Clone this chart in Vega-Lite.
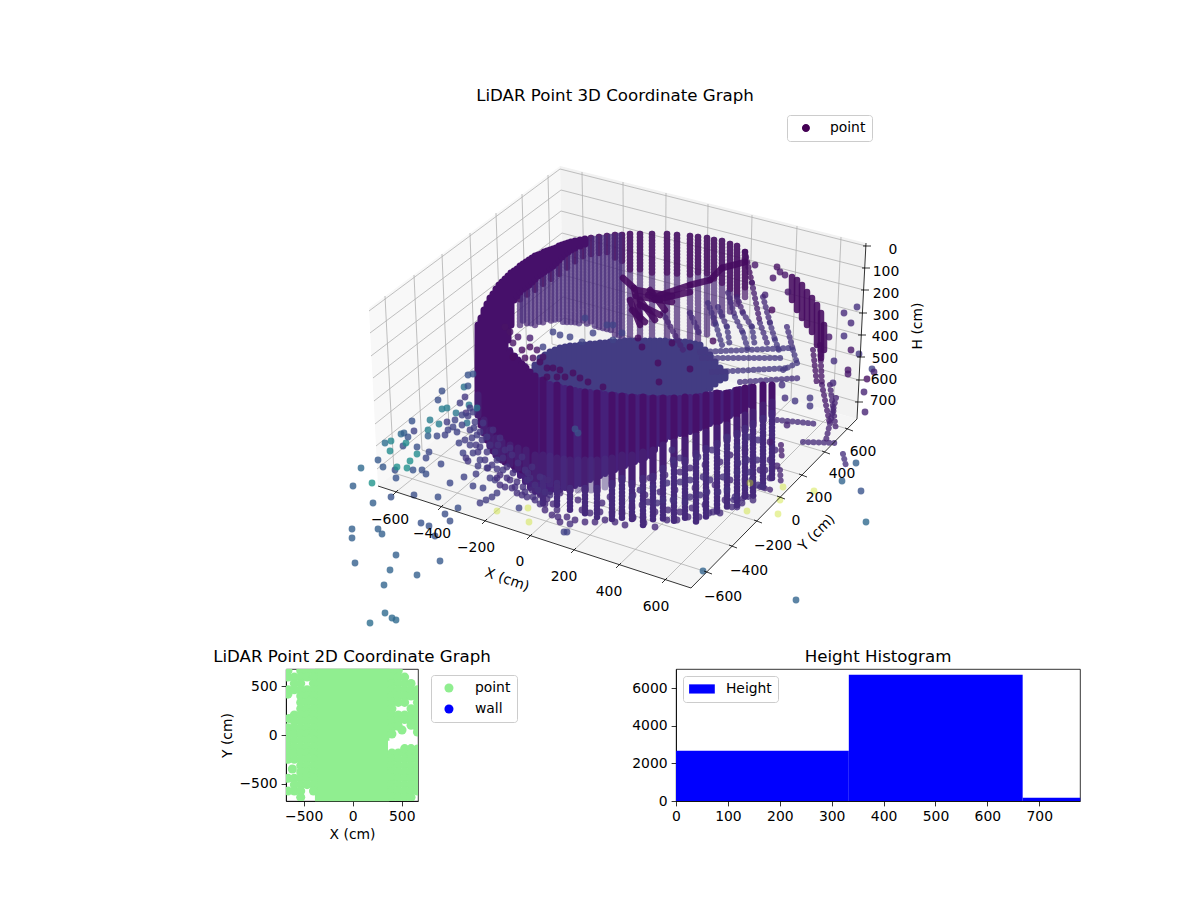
{
"$schema":"https://vega.github.io/schema/vega-lite/v6.json",
"padding":{"left":212,"top":88,"right":0,"bottom":0},
"background":"white",
"bounds":"flush",
"spacing":24,
"config":{"font":"DejaVu Sans","title":{"fontSize":16.67,"fontWeight":"normal","color":"black"},
"axis":{"grid":false,"labelFontSize":13.9,"titleFontSize":13.9,"titleFontWeight":"normal","labelColor":"black","titleColor":"black","tickColor":"black","domainColor":"black","tickSize":4.9,"tickWidth":0.8,"domainWidth":0.8,"labelPadding":4,"labelFlush":false},
"legend":{"labelFontSize":13.9,"labelColor":"black","strokeColor":"#cccccc","fillColor":"white","cornerRadius":3,"padding":6,"title":null}},
"resolve":{"scale":{"color":"independent"},"legend":{"color":"independent"}},
"datasets":{
"panes":[
{"pane":"left","i":1,"x":369,"y":308},{"pane":"left","i":2,"x":560,"y":166},{"pane":"left","i":3,"x":564,"y":334},{"pane":"left","i":4,"x":378,"y":486},{"pane":"left","i":5,"x":369,"y":308},
{"pane":"right","i":1,"x":560,"y":166},{"pane":"right","i":2,"x":866,"y":243},{"pane":"right","i":3,"x":857,"y":419},{"pane":"right","i":4,"x":564,"y":334},{"pane":"right","i":5,"x":560,"y":166},
{"pane":"floor","i":1,"x":378,"y":486},{"pane":"floor","i":2,"x":564,"y":334},{"pane":"floor","i":3,"x":857,"y":419},{"pane":"floor","i":4,"x":691,"y":588},{"pane":"floor","i":5,"x":378,"y":486}],
"grid":[
{"x":385,"y":296,"x2":394,"y2":473},{"x":414,"y":275,"x2":422,"y2":450},{"x":442,"y":254,"x2":449,"y2":428},{"x":470,"y":233,"x2":476,"y2":406},{"x":496,"y":213,"x2":502,"y2":385},{"x":522,"y":194,"x2":527,"y2":364},{"x":548,"y":175,"x2":552,"y2":344},
{"x":582,"y":172,"x2":585,"y2":340},{"x":623,"y":182,"x2":624,"y2":351},{"x":666,"y":193,"x2":665,"y2":363},{"x":708,"y":204,"x2":706,"y2":375},{"x":752,"y":215,"x2":748,"y2":387},{"x":797,"y":226,"x2":791,"y2":400},{"x":841,"y":237,"x2":833,"y2":412},
{"x":396,"y":492,"x2":585,"y2":340},{"x":441,"y":507,"x2":624,"y2":351},{"x":485,"y":521,"x2":665,"y2":363},{"x":530,"y":536,"x2":706,"y2":375},{"x":574,"y":550,"x2":748,"y2":387},{"x":619,"y":565,"x2":791,"y2":400},{"x":665,"y":580,"x2":833,"y2":412},
{"x":394,"y":473,"x2":707,"y2":572},{"x":422,"y":450,"x2":732,"y2":546},{"x":449,"y":428,"x2":757,"y2":521},{"x":476,"y":406,"x2":780,"y2":497},{"x":502,"y":385,"x2":802,"y2":475},{"x":527,"y":364,"x2":825,"y2":452},{"x":552,"y":344,"x2":848,"y2":429},
{"x":369,"y":311,"x2":560,"y2":169},{"x":370,"y":333,"x2":561,"y2":190},{"x":371,"y":356,"x2":561,"y2":211},{"x":373,"y":378,"x2":562,"y2":233},{"x":374,"y":401,"x2":562,"y2":254},{"x":375,"y":424,"x2":563,"y2":275},{"x":376,"y":446,"x2":563,"y2":297},{"x":377,"y":469,"x2":564,"y2":318},
{"x":560,"y":169,"x2":866,"y2":246},{"x":561,"y":190,"x2":865,"y2":268},{"x":561,"y":211,"x2":864,"y2":290},{"x":562,"y":233,"x2":862,"y2":313},{"x":562,"y":254,"x2":861,"y2":335},{"x":563,"y":275,"x2":860,"y2":357},{"x":563,"y":297,"x2":859,"y2":380},{"x":564,"y":318,"x2":858,"y2":402}],
"axislines":[
{"x":378,"y":486,"x2":691,"y2":588},{"x":691,"y":588,"x2":857,"y2":419},{"x":866,"y":243,"x2":857,"y2":419},
{"x":398,"y":490,"x2":393,"y2":495},{"x":443,"y":505,"x2":438,"y2":510},{"x":487,"y":519,"x2":482,"y2":524},{"x":532,"y":534,"x2":527,"y2":539},{"x":576,"y":548,"x2":571,"y2":553},{"x":621,"y":563,"x2":616,"y2":568},{"x":667,"y":578,"x2":662,"y2":583},
{"x":704,"y":571,"x2":712,"y2":574},{"x":729,"y":545,"x2":737,"y2":548},{"x":754,"y":520,"x2":762,"y2":523},{"x":777,"y":496,"x2":785,"y2":499},{"x":799,"y":474,"x2":807,"y2":477},{"x":822,"y":451,"x2":830,"y2":454},{"x":845,"y":428,"x2":853,"y2":431},
{"x":863,"y":246,"x2":871,"y2":246},{"x":862,"y":268,"x2":870,"y2":268},{"x":861,"y":290,"x2":869,"y2":290},{"x":859,"y":313,"x2":867,"y2":313},{"x":858,"y":335,"x2":866,"y2":335},{"x":857,"y":357,"x2":865,"y2":357},{"x":856,"y":380,"x2":864,"y2":380},{"x":855,"y":402,"x2":863,"y2":402}],
"ticklabels":[
{"x":390,"y":520,"label":"−600"},{"x":432,"y":534,"label":"−400"},{"x":476,"y":548,"label":"−200"},{"x":520,"y":562,"label":"0"},{"x":564,"y":577,"label":"200"},{"x":609,"y":592,"label":"400"},{"x":656,"y":607,"label":"600"},
{"x":723,"y":597,"label":"−600"},{"x":749,"y":571,"label":"−400"},{"x":773,"y":546,"label":"−200"},{"x":796,"y":521,"label":"0"},{"x":819,"y":498,"label":"200"},{"x":842,"y":474,"label":"400"},{"x":863,"y":452,"label":"600"},
{"x":893,"y":250,"label":"0"},{"x":886,"y":272,"label":"100"},{"x":886,"y":294,"label":"200"},{"x":886,"y":316,"label":"300"},{"x":885,"y":337,"label":"400"},{"x":885,"y":359,"label":"500"},{"x":884,"y":380,"label":"600"},{"x":883,"y":401,"label":"700"}],
"back":[
{"x":520,"y":280,"y2":325,"v":0.1},{"x":527,"y":272,"y2":326,"v":0.1},{"x":535,"y":264,"y2":327,"v":0.1},{"x":543,"y":258,"y2":325,"v":0.1},{"x":551,"y":253,"y2":322,"v":0.1},{"x":559,"y":248,"y2":320,"v":0.11},{"x":567,"y":245,"y2":324,"v":0.11},{"x":575,"y":242,"y2":325,"v":0.11},{"x":583,"y":240,"y2":322,"v":0.11},{"x":591,"y":238,"y2":324,"v":0.11},{"x":599,"y":237,"y2":328,"v":0.11},{"x":607,"y":236,"y2":330,"v":0.11},{"x":615,"y":235,"y2":335,"v":0.11},{"x":622,"y":235,"y2":340,"v":0.11},{"x":630,"y":234,"y2":345,"v":0.1},{"x":640,"y":234,"y2":345,"v":0.1},{"x":652,"y":234,"y2":345,"v":0.1},{"x":667,"y":234,"y2":345,"v":0.1},{"x":677,"y":235,"y2":345,"v":0.1},{"x":690,"y":236,"y2":345,"v":0.1},{"x":698,"y":237,"y2":340,"v":0.1},{"x":707,"y":238,"y2":335,"v":0.1},{"x":714,"y":240,"y2":325,"v":0.1},{"x":722,"y":241,"y2":318,"v":0.1},{"x":730,"y":244,"y2":312,"v":0.1},{"x":737,"y":246,"y2":305,"v":0.08},{"x":745,"y":252,"y2":300,"v":0.06},
{"x":520,"y":280,"y2":300,"v":0.02},{"x":527,"y":272,"y2":295,"v":0.02},{"x":535,"y":264,"y2":290,"v":0.02},{"x":543,"y":258,"y2":285,"v":0.02},{"x":551,"y":253,"y2":280,"v":0.02},{"x":559,"y":248,"y2":275,"v":0.02},{"x":567,"y":245,"y2":268,"v":0.02},{"x":575,"y":242,"y2":262,"v":0.02},{"x":583,"y":240,"y2":258,"v":0.02},{"x":591,"y":238,"y2":256,"v":0.02},{"x":599,"y":237,"y2":255,"v":0.02},{"x":607,"y":236,"y2":255,"v":0.02},{"x":615,"y":235,"y2":258,"v":0.02},{"x":622,"y":235,"y2":262,"v":0.02},{"x":630,"y":234,"y2":270,"v":0.02},{"x":640,"y":234,"y2":272,"v":0.02},{"x":652,"y":234,"y2":275,"v":0.02},{"x":667,"y":234,"y2":275,"v":0.02},{"x":677,"y":235,"y2":275,"v":0.02},{"x":690,"y":236,"y2":275,"v":0.02},{"x":698,"y":237,"y2":275,"v":0.02},{"x":707,"y":238,"y2":275,"v":0.02},{"x":714,"y":240,"y2":280,"v":0.02},{"x":722,"y":241,"y2":285,"v":0.02},{"x":730,"y":244,"y2":290,"v":0.02},{"x":737,"y":246,"y2":295,"v":0.02},{"x":745,"y":252,"y2":290,"v":0.02},
{"x":523,"y":282,"y2":322,"v":0.12},{"x":531,"y":272,"y2":324,"v":0.12},{"x":539,"y":264,"y2":324,"v":0.12},{"x":547,"y":258,"y2":322,"v":0.12},{"x":555,"y":252,"y2":320,"v":0.12},{"x":563,"y":248,"y2":322,"v":0.12},{"x":571,"y":245,"y2":324,"v":0.12},{"x":579,"y":243,"y2":324,"v":0.12},{"x":587,"y":240,"y2":324,"v":0.12},{"x":595,"y":239,"y2":326,"v":0.12},{"x":603,"y":238,"y2":328,"v":0.12},{"x":611,"y":237,"y2":332,"v":0.12},{"x":619,"y":236,"y2":336,"v":0.12}],
"floor":[
{"x":535,"y":365,"y2":378},{"x":540,"y":358,"y2":380},{"x":545,"y":355,"y2":382},{"x":550,"y":352,"y2":384},{"x":555,"y":350,"y2":386},{"x":560,"y":348,"y2":388},{"x":565,"y":347,"y2":390},{"x":570,"y":346,"y2":392},{"x":575,"y":346,"y2":393},{"x":580,"y":345,"y2":395},{"x":585,"y":345,"y2":396},{"x":590,"y":344,"y2":398},{"x":595,"y":344,"y2":398},{"x":600,"y":343,"y2":400},{"x":605,"y":343,"y2":400},{"x":610,"y":342,"y2":400},{"x":615,"y":342,"y2":400},{"x":620,"y":342,"y2":400},{"x":625,"y":341,"y2":400},{"x":630,"y":341,"y2":400},{"x":635,"y":341,"y2":400},{"x":640,"y":341,"y2":400},{"x":645,"y":341,"y2":400},{"x":650,"y":341,"y2":400},{"x":655,"y":341,"y2":400},{"x":660,"y":341,"y2":400},{"x":665,"y":341,"y2":400},{"x":670,"y":342,"y2":400},{"x":675,"y":342,"y2":400},{"x":680,"y":342,"y2":398},{"x":685,"y":342,"y2":398},{"x":690,"y":343,"y2":396},{"x":695,"y":344,"y2":395},{"x":700,"y":345,"y2":392},{"x":705,"y":350,"y2":390},{"x":710,"y":355,"y2":388},{"x":715,"y":362,"y2":384},{"x":720,"y":368,"y2":380},{"x":725,"y":372,"y2":378}],
"behind":[
{"x":505,"y":340,"y2":462},{"x":510,"y":350,"y2":464},{"x":515,"y":356,"y2":470},{"x":520,"y":362,"y2":476},{"x":525,"y":366,"y2":482},{"x":530,"y":372,"y2":488},{"x":535,"y":376,"y2":492},{"x":540,"y":380,"y2":494},{"x":545,"y":382,"y2":494},{"x":550,"y":384,"y2":492},{"x":555,"y":385,"y2":490},{"x":560,"y":387,"y2":490},{"x":565,"y":388,"y2":488},{"x":570,"y":389,"y2":488},{"x":575,"y":390,"y2":486},{"x":580,"y":391,"y2":484},{"x":585,"y":392,"y2":482},{"x":590,"y":392,"y2":480},{"x":595,"y":393,"y2":478},{"x":600,"y":393,"y2":476},{"x":605,"y":394,"y2":474},{"x":610,"y":395,"y2":472},{"x":615,"y":395,"y2":470},{"x":620,"y":396,"y2":468},{"x":625,"y":396,"y2":466},{"x":630,"y":397,"y2":464},{"x":635,"y":397,"y2":462},{"x":640,"y":397,"y2":460},{"x":645,"y":397,"y2":458},{"x":650,"y":398,"y2":456},{"x":655,"y":398,"y2":450},{"x":660,"y":398,"y2":444},{"x":665,"y":398,"y2":440},{"x":670,"y":398,"y2":437},{"x":675,"y":398,"y2":436},{"x":680,"y":398,"y2":434},{"x":685,"y":397,"y2":433},{"x":690,"y":397,"y2":432},{"x":695,"y":397,"y2":430},{"x":700,"y":396,"y2":428},{"x":705,"y":395,"y2":426},{"x":710,"y":394,"y2":424},{"x":715,"y":393,"y2":422},{"x":720,"y":393,"y2":421},{"x":725,"y":393,"y2":419},{"x":730,"y":392,"y2":416},{"x":735,"y":390,"y2":414},{"x":740,"y":389,"y2":411},{"x":745,"y":388,"y2":408},{"x":750,"y":387,"y2":405}],
"band":[
{"x":478,"y":325,"y2":415},{"x":481,"y":318,"y2":425},{"x":484,"y":310,"y2":433},{"x":487,"y":304,"y2":440},{"x":490,"y":298,"y2":446},{"x":493,"y":294,"y2":451},{"x":496,"y":289,"y2":455},{"x":499,"y":285,"y2":458},{"x":502,"y":282,"y2":460},{"x":505,"y":279,"y2":462},{"x":508,"y":276,"y2":340},{"x":511,"y":273,"y2":325},{"x":514,"y":271,"y2":300},{"x":517,"y":269,"y2":296},{"x":520,"y":266,"y2":292},{"x":523,"y":264,"y2":289},{"x":526,"y":262,"y2":287},{"x":529,"y":260,"y2":285},{"x":532,"y":258,"y2":282},{"x":535,"y":256,"y2":279},{"x":538,"y":255,"y2":276},{"x":541,"y":254,"y2":274},{"x":544,"y":252,"y2":272},{"x":547,"y":251,"y2":270},{"x":550,"y":250,"y2":268},{"x":553,"y":249,"y2":266},{"x":556,"y":248,"y2":263},{"x":559,"y":246,"y2":260},{"x":562,"y":245,"y2":257},{"x":565,"y":244,"y2":254},{"x":568,"y":243,"y2":252},{"x":571,"y":242,"y2":250},{"x":575,"y":241,"y2":248},{"x":580,"y":240,"y2":246},{"x":585,"y":239,"y2":244},
{"x":510,"y":352,"y2":464},{"x":514,"y":356,"y2":466},{"x":518,"y":360,"y2":468},{"x":522,"y":364,"y2":470},{"x":526,"y":368,"y2":472},{"x":530,"y":372,"y2":476},{"x":535,"y":376,"y2":480},
{"x":543,"y":380,"y2":480},{"x":557,"y":385,"y2":485},{"x":570,"y":389,"y2":490},{"x":585,"y":392,"y2":490},{"x":597,"y":393,"y2":490},{"x":612,"y":395,"y2":485},{"x":622,"y":396,"y2":480},{"x":632,"y":397,"y2":485},{"x":643,"y":397,"y2":480},{"x":653,"y":398,"y2":478},{"x":663,"y":398,"y2":470},{"x":674,"y":398,"y2":465},{"x":685,"y":397,"y2":462},{"x":696,"y":397,"y2":455},{"x":706,"y":395,"y2":450},{"x":717,"y":393,"y2":445},{"x":727,"y":393,"y2":440},{"x":737,"y":390,"y2":435},{"x":745,"y":388,"y2":430},{"x":753,"y":387,"y2":425},{"x":763,"y":385,"y2":420},{"x":772,"y":385,"y2":415}],
"shade":[
{"x":478,"y":395,"y2":415},{"x":484,"y":420,"y2":433},{"x":490,"y":430,"y2":446},{"x":496,"y":438,"y2":455},{"x":502,"y":442,"y2":460},{"x":510,"y":445,"y2":464},{"x":518,"y":448,"y2":468},{"x":526,"y":450,"y2":472},{"x":535,"y":455,"y2":480},{"x":543,"y":455,"y2":480},{"x":550,"y":456,"y2":484},{"x":557,"y":458,"y2":485},{"x":564,"y":459,"y2":487},{"x":570,"y":460,"y2":490},{"x":578,"y":460,"y2":490},{"x":585,"y":460,"y2":490},{"x":591,"y":460,"y2":490},{"x":597,"y":460,"y2":490},{"x":605,"y":459,"y2":487},{"x":612,"y":458,"y2":485},{"x":622,"y":455,"y2":480},{"x":632,"y":455,"y2":485},{"x":643,"y":452,"y2":480},{"x":653,"y":450,"y2":478},{"x":663,"y":445,"y2":470},{"x":674,"y":442,"y2":465},{"x":685,"y":440,"y2":462},{"x":696,"y":436,"y2":455},{"x":706,"y":432,"y2":450},{"x":717,"y":428,"y2":445},{"x":727,"y":425,"y2":440},{"x":737,"y":420,"y2":435},{"x":745,"y":415,"y2":430},{"x":753,"y":412,"y2":425},{"x":763,"y":405,"y2":420},{"x":772,"y":402,"y2":415}],
"lower":[
{"x":543,"y":478,"y2":505},{"x":557,"y":483,"y2":508},{"x":570,"y":488,"y2":512},{"x":585,"y":488,"y2":516},{"x":597,"y":488,"y2":518},{"x":612,"y":483,"y2":520},{"x":622,"y":478,"y2":518},{"x":632,"y":483,"y2":521},{"x":643,"y":478,"y2":525},{"x":653,"y":476,"y2":522},{"x":663,"y":468,"y2":520},{"x":674,"y":463,"y2":521},{"x":685,"y":460,"y2":520},{"x":696,"y":453,"y2":522},{"x":706,"y":448,"y2":518},{"x":717,"y":443,"y2":512},{"x":727,"y":438,"y2":510},{"x":737,"y":433,"y2":508},{"x":745,"y":428,"y2":500},{"x":753,"y":423,"y2":498},{"x":763,"y":418,"y2":490},{"x":772,"y":413,"y2":480}],
"chains":[
{"x":745,"y":252,"x2":752,"y2":283,"v":0.04},{"x":752,"y":283,"x2":760,"y2":323,"v":0.08},{"x":760,"y":323,"x2":767,"y2":343,"v":0.14},
{"x":737,"y":297,"x2":743,"y2":313,"v":0.1},{"x":743,"y":313,"x2":752,"y2":327,"v":0.14},{"x":752,"y":327,"x2":755,"y2":347,"v":0.16},
{"x":728,"y":293,"x2":735,"y2":317,"v":0.12},{"x":735,"y":317,"x2":743,"y2":333,"v":0.15},{"x":743,"y":333,"x2":748,"y2":350,"v":0.16},
{"x":718,"y":307,"x2":727,"y2":327,"v":0.14},{"x":727,"y":327,"x2":730,"y2":347,"v":0.16},{"x":708,"y":303,"x2":716,"y2":325,"v":0.14},{"x":716,"y":325,"x2":722,"y2":345,"v":0.16},
{"x":763,"y":297,"x2":770,"y2":323,"v":0.12},{"x":770,"y":323,"x2":775,"y2":340,"v":0.15},{"x":775,"y":340,"x2":780,"y2":353,"v":0.16},
{"x":787,"y":327,"x2":793,"y2":350,"v":0.14},{"x":793,"y":350,"x2":797,"y2":363,"v":0.16},{"x":797,"y":363,"x2":783,"y2":370,"v":0.16},
{"x":700,"y":352,"x2":790,"y2":348,"v":0.16},{"x":702,"y":358,"x2":785,"y2":358,"v":0.16},{"x":712,"y":372,"x2":790,"y2":368,"v":0.16},{"x":740,"y":382,"x2":800,"y2":378,"v":0.14},
{"x":663,"y":313,"x2":683,"y2":350,"v":0.1},{"x":690,"y":313,"x2":700,"y2":335,"v":0.12},
{"x":781,"y":445,"x2":782,"y2":460,"v":0.08},{"x":780,"y":470,"x2":781,"y2":485,"v":0.1},{"x":777,"y":420,"x2":817,"y2":424,"v":0.12},{"x":803,"y":442,"x2":837,"y2":443,"v":0.12},{"x":843,"y":454,"x2":846,"y2":466,"v":0.14},{"x":760,"y":487,"x2":775,"y2":491,"v":0.1},{"x":733,"y":500,"x2":758,"y2":495,"v":0.13},
{"x":813,"y":350,"x2":817,"y2":385,"v":0.05},{"x":820,"y":345,"x2":822,"y2":385,"v":0.05},{"x":822,"y":385,"x2":830,"y2":425,"v":0.07},{"x":830,"y":385,"x2":836,"y2":430,"v":0.09},{"x":836,"y":398,"x2":826,"y2":440,"v":0.1}],
"thick":[
{"x":623,"y":278,"x2":634,"y2":288},{"x":634,"y":288,"x2":640,"y2":318},{"x":636,"y":290,"x2":672,"y2":296},{"x":650,"y":290,"x2":665,"y2":310},{"x":660,"y":295,"x2":690,"y2":285},{"x":690,"y":285,"x2":710,"y2":280},{"x":710,"y":280,"x2":722,"y2":268},{"x":722,"y":268,"x2":745,"y2":262},{"x":640,"y":300,"x2":655,"y2":320},{"x":632,"y":310,"x2":645,"y2":322},{"x":648,"y":295,"x2":660,"y2":300},{"x":636,"y":296,"x2":672,"y2":302},{"x":640,"y":305,"x2":660,"y2":315},{"x":655,"y":300,"x2":690,"y2":292},{"x":630,"y":300,"x2":640,"y2":325},
{"x":792,"y":277,"x2":792,"y2":300},{"x":797,"y":280,"x2":797,"y2":310},{"x":802,"y":285,"x2":802,"y2":318},{"x":807,"y":292,"x2":807,"y2":325},{"x":812,"y":298,"x2":812,"y2":332},{"x":817,"y":305,"x2":817,"y2":345},{"x":821,"y":313,"x2":821,"y2":358},{"x":824,"y":325,"x2":824,"y2":350}],
"dots":[
{"x":361,"y":468,"v":0.34},{"x":372,"y":483,"v":0.52},{"x":353,"y":486,"v":0.3},{"x":373,"y":503,"v":0.3},{"x":352,"y":529,"v":0.3},{"x":352,"y":538,"v":0.3},{"x":378,"y":529,"v":0.3},{"x":382,"y":534,"v":0.3},{"x":355,"y":563,"v":0.3},{"x":396,"y":555,"v":0.3},{"x":390,"y":570,"v":0.32},{"x":384,"y":585,"v":0.32},{"x":417,"y":575,"v":0.3},{"x":440,"y":561,"v":0.28},{"x":421,"y":523,"v":0.26},{"x":429,"y":526,"v":0.26},{"x":435,"y":536,"v":0.26},{"x":445,"y":514,"v":0.24},{"x":450,"y":521,"v":0.24},{"x":458,"y":508,"v":0.24},{"x":438,"y":497,"v":0.24},{"x":414,"y":495,"v":0.24},{"x":391,"y":497,"v":0.26},{"x":385,"y":613,"v":0.34},{"x":392,"y":618,"v":0.34},{"x":396,"y":620,"v":0.34},{"x":370,"y":623,"v":0.36},
{"x":378,"y":460,"v":0.28},{"x":383,"y":467,"v":0.28},{"x":395,"y":470,"v":0.24},{"x":396,"y":478,"v":0.26},{"x":397,"y":467,"v":0.5},{"x":407,"y":468,"v":0.5},{"x":410,"y":461,"v":0.5},{"x":413,"y":470,"v":0.26},{"x":422,"y":470,"v":0.24},{"x":426,"y":474,"v":0.24},{"x":426,"y":458,"v":0.22},{"x":429,"y":452,"v":0.22},{"x":417,"y":447,"v":0.25},{"x":417,"y":454,"v":0.48},{"x":403,"y":446,"v":0.24},{"x":406,"y":443,"v":0.48},{"x":390,"y":451,"v":0.48},{"x":391,"y":441,"v":0.46},{"x":385,"y":443,"v":0.36},{"x":401,"y":434,"v":0.34},{"x":404,"y":433,"v":0.3},{"x":408,"y":437,"v":0.26},{"x":414,"y":431,"v":0.2},{"x":412,"y":421,"v":0.26},{"x":428,"y":430,"v":0.44},{"x":428,"y":436,"v":0.3},{"x":430,"y":420,"v":0.42},{"x":439,"y":424,"v":0.42},{"x":437,"y":436,"v":0.22},{"x":448,"y":430,"v":0.2},{"x":445,"y":435,"v":0.2},{"x":457,"y":432,"v":0.2},{"x":447,"y":422,"v":0.18},{"x":453,"y":427,"v":0.2},{"x":459,"y":443,"v":0.2},{"x":442,"y":409,"v":0.42},{"x":447,"y":408,"v":0.42},{"x":456,"y":413,"v":0.4},{"x":438,"y":400,"v":0.24},{"x":442,"y":391,"v":0.24},{"x":460,"y":403,"v":0.18},{"x":465,"y":397,"v":0.16},{"x":466,"y":413,"v":0.14},{"x":469,"y":405,"v":0.4},{"x":473,"y":412,"v":0.18},{"x":477,"y":408,"v":0.38},{"x":467,"y":423,"v":0.38},{"x":464,"y":387,"v":0.38},{"x":468,"y":386,"v":0.26},{"x":468,"y":375,"v":0.26},{"x":473,"y":374,"v":0.26},
{"x":441,"y":464,"v":0.22},{"x":450,"y":483,"v":0.22},{"x":464,"y":477,"v":0.2},{"x":473,"y":486,"v":0.2},{"x":483,"y":488,"v":0.2},{"x":463,"y":453,"v":0.2},{"x":466,"y":458,"v":0.16},{"x":468,"y":461,"v":0.16},{"x":476,"y":474,"v":0.18},{"x":478,"y":466,"v":0.18},{"x":488,"y":468,"v":0.16},{"x":497,"y":469,"v":0.16},{"x":503,"y":470,"v":0.16},{"x":490,"y":478,"v":0.18},{"x":495,"y":480,"v":0.18},{"x":497,"y":493,"v":0.18},{"x":492,"y":497,"v":0.18},{"x":486,"y":500,"v":0.18},{"x":480,"y":503,"v":0.18},{"x":519,"y":508,"v":0.2},
{"x":856,"y":463,"v":0.3},{"x":842,"y":481,"v":0.32},{"x":861,"y":491,"v":0.26},{"x":866,"y":522,"v":0.34},{"x":703,"y":571,"v":0.32},{"x":796,"y":600,"v":0.32},
{"x":857,"y":307,"v":0.14},{"x":844,"y":313,"v":0.12},{"x":851,"y":323,"v":0.12},{"x":844,"y":336,"v":0.14},{"x":851,"y":350,"v":0.06},{"x":859,"y":354,"v":0.16},{"x":834,"y":361,"v":0.14},{"x":848,"y":370,"v":0.06},{"x":848,"y":374,"v":0.06},{"x":872,"y":369,"v":0.2},{"x":874,"y":372,"v":0.1},{"x":867,"y":379,"v":0.04},{"x":829,"y":337,"v":0.06},{"x":864,"y":392,"v":0.1},{"x":865,"y":412,"v":0.1},
{"x":770,"y":442,"v":0.08},{"x":787,"y":425,"v":0.1},{"x":795,"y":401,"v":0.16},{"x":810,"y":398,"v":0.16},{"x":810,"y":406,"v":0.16},{"x":785,"y":398,"v":0.14},{"x":782,"y":385,"v":0.14},{"x":833,"y":383,"v":0.12},{"x":777,"y":466,"v":0.1},{"x":755,"y":265,"v":0.06},
{"x":777,"y":267,"v":0.04},{"x":785,"y":275,"v":0.06},{"x":773,"y":278,"v":0.06},{"x":788,"y":292,"v":0.06},{"x":780,"y":272,"v":0.06},{"x":765,"y":295,"v":0.1},{"x":772,"y":310,"v":0.02},
{"x":513,"y":357,"v":0.03},{"x":522,"y":350,"v":0.03},{"x":530,"y":347,"v":0.03},{"x":525,"y":358,"v":0.03},{"x":533,"y":358,"v":0.03},{"x":540,"y":362,"v":0.03},{"x":547,"y":368,"v":0.03},{"x":553,"y":368,"v":0.03},{"x":560,"y":370,"v":0.03},{"x":557,"y":377,"v":0.03},{"x":565,"y":377,"v":0.03},{"x":573,"y":373,"v":0.03},{"x":547,"y":377,"v":0.03},{"x":580,"y":378,"v":0.03},{"x":588,"y":382,"v":0.03},{"x":603,"y":387,"v":0.03},{"x":543,"y":357,"v":0.05},{"x":537,"y":350,"v":0.05},{"x":530,"y":338,"v":0.08},{"x":518,"y":337,"v":0.06},{"x":510,"y":332,"v":0.05},{"x":505,"y":327,"v":0.05},{"x":513,"y":343,"v":0.05},
{"x":567,"y":532,"v":0.2},{"x":564,"y":532,"v":0.2},{"x":570,"y":524,"v":0.14},{"x":567,"y":517,"v":0.12},{"x":558,"y":517,"v":0.12},{"x":557,"y":510,"v":0.12},{"x":553,"y":504,"v":0.12},{"x":540,"y":504,"v":0.14},{"x":545,"y":504,"v":0.12},{"x":547,"y":499,"v":0.12},{"x":533,"y":497,"v":0.14},{"x":527,"y":497,"v":0.14},{"x":522,"y":495,"v":0.14},{"x":517,"y":493,"v":0.14},{"x":512,"y":488,"v":0.14},{"x":505,"y":487,"v":0.14},{"x":500,"y":485,"v":0.14},{"x":497,"y":478,"v":0.14},{"x":510,"y":480,"v":0.14},{"x":517,"y":482,"v":0.14},{"x":523,"y":487,"v":0.14},{"x":532,"y":490,"v":0.12},{"x":540,"y":495,"v":0.12},
{"x":578,"y":500,"v":0.12},{"x":582,"y":510,"v":0.12},{"x":590,"y":513,"v":0.12},{"x":600,"y":512,"v":0.12},{"x":602,"y":503,"v":0.12},{"x":610,"y":497,"v":0.12},{"x":612,"y":513,"v":0.12},{"x":622,"y":513,"v":0.12},{"x":633,"y":517,"v":0.12},{"x":632,"y":507,"v":0.12},{"x":633,"y":495,"v":0.12},{"x":597,"y":492,"v":0.12},{"x":585,"y":490,"v":0.12},{"x":570,"y":490,"v":0.12},{"x":560,"y":493,"v":0.12},{"x":557,"y":487,"v":0.12},{"x":548,"y":480,"v":0.12},
{"x":487,"y":468,"v":0.16},{"x":480,"y":460,"v":0.18},{"x":473,"y":453,"v":0.18},{"x":480,"y":447,"v":0.16},{"x":487,"y":452,"v":0.16},{"x":497,"y":460,"v":0.16},{"x":507,"y":467,"v":0.14},{"x":513,"y":473,"v":0.14},{"x":527,"y":480,"v":0.14},{"x":487,"y":437,"v":0.16},{"x":477,"y":435,"v":0.18},{"x":470,"y":430,"v":0.18},{"x":475,"y":422,"v":0.18},{"x":483,"y":423,"v":0.16},{"x":493,"y":430,"v":0.14},{"x":500,"y":438,"v":0.14},{"x":510,"y":448,"v":0.14},{"x":522,"y":457,"v":0.14},{"x":532,"y":467,"v":0.14},{"x":540,"y":477,"v":0.14},
{"x":490,"y":445,"v":0.14},{"x":495,"y":452,"v":0.14},{"x":503,"y":458,"v":0.14},{"x":498,"y":445,"v":0.14},{"x":505,"y":450,"v":0.14},{"x":512,"y":455,"v":0.14},{"x":518,"y":463,"v":0.14},{"x":525,"y":470,"v":0.14},{"x":530,"y":478,"v":0.14},{"x":535,"y":485,"v":0.14},{"x":528,"y":473,"v":0.14},{"x":538,"y":490,"v":0.14},{"x":545,"y":492,"v":0.14},{"x":550,"y":495,"v":0.14},{"x":482,"y":440,"v":0.16},{"x":476,"y":445,"v":0.16},{"x":470,"y":445,"v":0.18},{"x":465,"y":440,"v":0.18},{"x":472,"y":438,"v":0.18},{"x":468,"y":416,"v":0.18},{"x":474,"y":428,"v":0.18},{"x":480,"y":432,"v":0.16},{"x":462,"y":425,"v":0.2},{"x":455,"y":420,"v":0.2},{"x":470,"y":408,"v":0.18},{"x":462,"y":415,"v":0.2},{"x":478,"y":452,"v":0.16},{"x":485,"y":460,"v":0.16},{"x":492,"y":465,"v":0.16},{"x":500,"y":475,"v":0.14},{"x":507,"y":478,"v":0.14},{"x":515,"y":487,"v":0.14},{"x":525,"y":492,"v":0.14},{"x":535,"y":500,"v":0.14},{"x":545,"y":510,"v":0.12},{"x":552,"y":515,"v":0.12},{"x":560,"y":522,"v":0.12},{"x":575,"y":520,"v":0.12},{"x":585,"y":522,"v":0.12},{"x":595,"y":522,"v":0.12},{"x":605,"y":520,"v":0.12},{"x":615,"y":522,"v":0.12},{"x":625,"y":525,"v":0.12},
{"x":645,"y":495,"v":0.12},{"x":660,"y":492,"v":0.12},{"x":675,"y":490,"v":0.12},{"x":695,"y":488,"v":0.12},{"x":715,"y":485,"v":0.12},{"x":730,"y":480,"v":0.12},{"x":745,"y":480,"v":0.12},{"x":655,"y":512,"v":0.12},{"x":668,"y":510,"v":0.12},{"x":680,"y":512,"v":0.12},{"x":692,"y":508,"v":0.12},{"x":705,"y":505,"v":0.12},{"x":725,"y":500,"v":0.12},{"x":745,"y":495,"v":0.12},{"x":770,"y":478,"v":0.12},{"x":765,"y":470,"v":0.12},{"x":770,"y":460,"v":0.12},{"x":775,"y":450,"v":0.12},{"x":760,"y":470,"v":0.12},{"x":745,"y":450,"v":0.12},{"x":730,"y":455,"v":0.12},{"x":720,"y":462,"v":0.12},{"x":705,"y":465,"v":0.12},{"x":690,"y":468,"v":0.12},{"x":680,"y":472,"v":0.12},{"x":665,"y":475,"v":0.12},{"x":650,"y":478,"v":0.12},
{"x":655,"y":527,"v":0.12},{"x":644,"y":523,"v":0.12},{"x":643,"y":517,"v":0.12},{"x":633,"y":518,"v":0.12},{"x":667,"y":520,"v":0.12},{"x":677,"y":520,"v":0.12},{"x":688,"y":517,"v":0.12},{"x":699,"y":517,"v":0.12},{"x":709,"y":513,"v":0.13},{"x":720,"y":513,"v":0.13},{"x":713,"y":512,"v":0.13},{"x":732,"y":507,"v":0.13},{"x":737,"y":507,"v":0.13},{"x":742,"y":503,"v":0.13},{"x":753,"y":500,"v":0.13},{"x":642,"y":505,"v":0.13},{"x":648,"y":502,"v":0.13},{"x":657,"y":503,"v":0.14},{"x":663,"y":500,"v":0.14},{"x":673,"y":500,"v":0.14},{"x":685,"y":502,"v":0.14},{"x":690,"y":497,"v":0.14},{"x":700,"y":495,"v":0.14},{"x":707,"y":492,"v":0.14},{"x":718,"y":492,"v":0.14},{"x":727,"y":490,"v":0.14},{"x":735,"y":497,"v":0.14},{"x":752,"y":480,"v":0.14},{"x":758,"y":485,"v":0.14},{"x":763,"y":487,"v":0.14},{"x":632,"y":497,"v":0.14},{"x":640,"y":490,"v":0.14},{"x":653,"y":487,"v":0.14},{"x":667,"y":483,"v":0.14},{"x":680,"y":482,"v":0.14},{"x":690,"y":480,"v":0.14},{"x":703,"y":477,"v":0.14},{"x":710,"y":480,"v":0.14},{"x":723,"y":477,"v":0.14},{"x":737,"y":472,"v":0.14},{"x":750,"y":472,"v":0.14},{"x":738,"y":463,"v":0.14},{"x":747,"y":460,"v":0.14},{"x":757,"y":460,"v":0.14},{"x":758,"y":440,"v":0.14},{"x":748,"y":437,"v":0.14},{"x":737,"y":447,"v":0.14},{"x":727,"y":437,"v":0.14},{"x":712,"y":450,"v":0.14},{"x":698,"y":457,"v":0.14},{"x":673,"y":460,"v":0.14},{"x":672,"y":450,"v":0.14},{"x":680,"y":458,"v":0.14},
{"x":593,"y":333,"v":0.2},{"x":607,"y":325,"v":0.2},{"x":613,"y":325,"v":0.2},{"x":585,"y":318,"v":0.2},{"x":570,"y":337,"v":0.2},{"x":560,"y":335,"v":0.2},{"x":543,"y":347,"v":0.2},{"x":553,"y":332,"v":0.2},{"x":613,"y":340,"v":0.2},{"x":622,"y":333,"v":0.2},{"x":582,"y":342,"v":0.2},
{"x":658,"y":363,"v":0.03},{"x":659,"y":382,"v":0.03},{"x":638,"y":338,"v":0.03},{"x":642,"y":347,"v":0.03},{"x":672,"y":343,"v":0.03},{"x":690,"y":347,"v":0.03},{"x":690,"y":369,"v":0.03},{"x":713,"y":341,"v":0.03},{"x":575,"y":429,"v":0.24},{"x":578,"y":433,"v":0.24}],
"yellow":[{"x":497,"y":511,"v":0.92},{"x":528,"y":508,"v":0.92},{"x":529,"y":522,"v":0.92},{"x":750,"y":483,"v":0.92},{"x":747,"y":511,"v":0.92},{"x":778,"y":514,"v":0.92},{"x":780,"y":500,"v":0.92},{"x":814,"y":491,"v":0.92},{"x":783,"y":487,"v":0.92}],
"fill2d":[{"x":-385,"x2":375,"y":-680,"y2":-170},{"x":-385,"x2":375,"y":-60,"y2":680},{"x":-385,"x2":360,"y":-200,"y2":-30}],
"points2d":[
{"x":-660,"y":660},{"x":-530,"y":660},{"x":-465,"y":660},{"x":-400,"y":660},
{"x":-660,"y":595},{"x":-595,"y":595},{"x":-530,"y":595},{"x":-465,"y":595},{"x":-400,"y":595},
{"x":-595,"y":530},{"x":-530,"y":530},{"x":-400,"y":530},
{"x":-660,"y":465},{"x":-595,"y":465},{"x":-530,"y":465},{"x":-465,"y":465},{"x":-400,"y":465},
{"x":-530,"y":400},{"x":-465,"y":400},{"x":-400,"y":400},{"x":-660,"y":420},
{"x":-530,"y":335},{"x":-465,"y":335},{"x":-400,"y":335},
{"x":-530,"y":270},{"x":-465,"y":270},{"x":-400,"y":270},
{"x":-595,"y":205},{"x":-530,"y":205},{"x":-465,"y":205},{"x":-400,"y":205},{"x":-650,"y":170},
{"x":-595,"y":140},{"x":-530,"y":140},{"x":-465,"y":140},{"x":-400,"y":140},
{"x":-660,"y":75},{"x":-595,"y":75},{"x":-530,"y":75},{"x":-465,"y":75},{"x":-400,"y":75},
{"x":-660,"y":10},{"x":-595,"y":10},{"x":-530,"y":10},{"x":-465,"y":10},{"x":-400,"y":10},
{"x":-660,"y":-55},{"x":-595,"y":-55},{"x":-530,"y":-55},{"x":-465,"y":-55},{"x":-400,"y":-55},
{"x":-660,"y":-120},{"x":-595,"y":-120},{"x":-530,"y":-120},{"x":-465,"y":-120},{"x":-400,"y":-120},
{"x":-660,"y":-185},{"x":-595,"y":-185},{"x":-530,"y":-185},{"x":-465,"y":-185},{"x":-400,"y":-185},
{"x":-660,"y":-250},{"x":-595,"y":-250},{"x":-530,"y":-250},{"x":-465,"y":-250},{"x":-400,"y":-250},
{"x":-530,"y":-315},{"x":-465,"y":-315},{"x":-400,"y":-315},{"x":-615,"y":-350},
{"x":-530,"y":-380},{"x":-465,"y":-380},{"x":-400,"y":-380},
{"x":-660,"y":-445},{"x":-595,"y":-445},{"x":-530,"y":-445},{"x":-465,"y":-445},{"x":-400,"y":-445},
{"x":-595,"y":-510},{"x":-530,"y":-510},{"x":-465,"y":-510},{"x":-400,"y":-510},
{"x":-660,"y":-575},{"x":-595,"y":-575},{"x":-530,"y":-575},{"x":-400,"y":-575},
{"x":-530,"y":-640},
{"x":400,"y":660},{"x":465,"y":660},
{"x":400,"y":595},{"x":465,"y":595},{"x":530,"y":595},
{"x":400,"y":530},{"x":465,"y":530},{"x":530,"y":530},{"x":595,"y":530},
{"x":400,"y":465},{"x":465,"y":465},{"x":530,"y":465},{"x":595,"y":465},{"x":660,"y":465},
{"x":400,"y":400},{"x":465,"y":400},{"x":530,"y":400},{"x":595,"y":400},{"x":660,"y":400},
{"x":400,"y":335},{"x":465,"y":335},{"x":530,"y":335},{"x":660,"y":335},
{"x":400,"y":270},{"x":595,"y":270},{"x":660,"y":270},
{"x":400,"y":205},{"x":465,"y":205},{"x":530,"y":205},{"x":595,"y":205},{"x":660,"y":205},
{"x":400,"y":140},{"x":465,"y":140},{"x":530,"y":160},{"x":595,"y":140},{"x":660,"y":140},
{"x":400,"y":75},{"x":465,"y":90},{"x":595,"y":100},{"x":660,"y":75},
{"x":400,"y":10},{"x":503,"y":51},{"x":660,"y":30},
{"x":400,"y":-185},{"x":465,"y":-185},{"x":530,"y":-185},{"x":595,"y":-185},{"x":660,"y":-185},
{"x":530,"y":-140},{"x":595,"y":-140},{"x":660,"y":-145},
{"x":400,"y":-250},{"x":465,"y":-250},{"x":530,"y":-250},{"x":595,"y":-250},{"x":660,"y":-250},
{"x":400,"y":-315},{"x":465,"y":-315},{"x":530,"y":-315},{"x":595,"y":-315},{"x":660,"y":-315},
{"x":400,"y":-380},{"x":465,"y":-380},{"x":530,"y":-380},{"x":595,"y":-380},{"x":660,"y":-380},
{"x":400,"y":-445},{"x":465,"y":-445},{"x":530,"y":-445},{"x":595,"y":-445},{"x":660,"y":-445},
{"x":400,"y":-510},{"x":465,"y":-510},{"x":530,"y":-510},{"x":595,"y":-510},{"x":660,"y":-510},
{"x":400,"y":-575},{"x":465,"y":-575},{"x":530,"y":-575},{"x":595,"y":-575},{"x":660,"y":-575},
{"x":400,"y":-640},{"x":465,"y":-640},{"x":530,"y":-640},{"x":595,"y":-640}],
"hist":[{"bin_start":0,"bin_end":333,"count":2670,"series":"Height"},{"bin_start":333,"bin_end":668,"count":6720,"series":"Height"},{"bin_start":668,"bin_end":779,"count":177,"series":"Height"}]
},
"vconcat":[
{"width":794,"height":535,
"view":{"stroke":null},
"title":{"text":"LiDAR Point 3D Coordinate Graph","dx":-68,"offset":5},
"encoding":{
"x":{"field":"x","type":"quantitative","axis":null,"scale":{"domain":[286,1080],"nice":false,"zero":false}},
"y":{"field":"y","type":"quantitative","axis":null,"scale":{"domain":[645,110],"nice":false,"zero":false}}},
"layer":[
{"data":{"name":"panes"},"transform":[{"filter":"datum.pane=='left'"}],"mark":{"type":"line","fill":"#f8f8f8","stroke":null},"encoding":{"order":{"field":"i","type":"quantitative"}}},
{"data":{"name":"panes"},"transform":[{"filter":"datum.pane=='right'"}],"mark":{"type":"line","fill":"#f2f2f2","stroke":null},"encoding":{"order":{"field":"i","type":"quantitative"}}},
{"data":{"name":"panes"},"transform":[{"filter":"datum.pane=='floor'"}],"mark":{"type":"line","fill":"#f5f5f5","stroke":null},"encoding":{"order":{"field":"i","type":"quantitative"}}},
{"data":{"name":"grid"},"mark":{"type":"rule","color":"#b0b0b0","strokeWidth":0.8},"encoding":{"x2":{"field":"x2"},"y2":{"field":"y2"}}},
{"data":{"name":"back"},"mark":{"type":"rule","strokeWidth":6.5,"strokeCap":"round","strokeDash":[0.01,3.2],"opacity":0.7},"encoding":{"y2":{"field":"y2"},"color":{"field":"v","type":"quantitative","legend":null,"scale":{"scheme":"viridis","domain":[0,1]}}}},
{"data":{"name":"floor"},"mark":{"type":"rule","strokeWidth":7,"strokeCap":"round","color":"#433c83"},"encoding":{"y2":{"field":"y2"}}},
{"data":{"name":"chains"},"mark":{"type":"rule","strokeWidth":6,"strokeCap":"round","strokeDash":[0.01,5.2],"opacity":0.78},"encoding":{"x2":{"field":"x2"},"y2":{"field":"y2"},"color":{"field":"v","type":"quantitative","legend":null,"scale":{"scheme":"viridis","domain":[0,1]}}}},
{"data":{"name":"behind"},"mark":{"type":"rule","strokeWidth":6,"strokeCap":"round","color":"#46207a"},"encoding":{"y2":{"field":"y2"}}},
{"data":{"name":"band"},"mark":{"type":"rule","strokeWidth":7,"strokeCap":"round","color":"#46106a"},"encoding":{"y2":{"field":"y2"}}},
{"data":{"name":"shade"},"mark":{"type":"rule","strokeWidth":7,"strokeCap":"round","color":"#47307f","opacity":0.45},"encoding":{"y2":{"field":"y2"}}},
{"data":{"name":"lower"},"mark":{"type":"rule","strokeWidth":6.5,"strokeCap":"round","strokeDash":[0.01,3.6],"color":"#462a7c"},"encoding":{"y2":{"field":"y2"}}},
{"data":{"name":"thick"},"mark":{"type":"rule","strokeWidth":6.5,"strokeCap":"round","color":"#460a60","opacity":0.88},"encoding":{"x2":{"field":"x2"},"y2":{"field":"y2"}}},
{"data":{"name":"dots"},"mark":{"type":"point","filled":true,"size":46,"opacity":0.8},"encoding":{
"color":{"field":"v","type":"quantitative","legend":null,"scale":{"scheme":"viridis","domain":[0,1]}},
"shape":{"datum":"point","type":"nominal","scale":{"range":["circle"]},"legend":{"orient":"none","legendX":501,"legendY":5,"symbolFillColor":"#440154","symbolStrokeColor":"#440154","symbolOpacity":1,"symbolSize":42,"symbolOffset":6,"labelOffset":17}}}},
{"data":{"name":"yellow"},"mark":{"type":"circle","size":46,"opacity":0.42},"encoding":{"color":{"field":"v","type":"quantitative","legend":null,"scale":{"scheme":"viridis","domain":[0,1]}}}},
{"data":{"name":"axislines"},"mark":{"type":"rule","color":"black","strokeWidth":0.8},"encoding":{"x2":{"field":"x2"},"y2":{"field":"y2"}}},
{"data":{"name":"ticklabels"},"mark":{"type":"text","fontSize":13.9,"color":"black","baseline":"middle","align":"center"},"encoding":{"text":{"field":"label"}}},
{"data":{"values":[{"x":507,"y":580,"label":"X (cm)"}]},"mark":{"type":"text","fontSize":13.9,"color":"black","baseline":"middle","align":"center","angle":19},"encoding":{"text":{"field":"label"}}},
{"data":{"values":[{"x":817,"y":533,"label":"Y (cm)"}]},"mark":{"type":"text","fontSize":13.9,"color":"black","baseline":"middle","align":"center","angle":-45},"encoding":{"text":{"field":"label"}}},
{"data":{"values":[{"x":918,"y":326,"label":"H (cm)"}]},"mark":{"type":"text","fontSize":13.9,"color":"black","baseline":"middle","align":"center","angle":-90},"encoding":{"text":{"field":"label"}}}
]},
{"hconcat":[
{"width":132,"height":132,
"view":{"stroke":"black","strokeWidth":0.8},
"title":{"text":"LiDAR Point 2D Coordinate Graph","offset":3.5},
"encoding":{
"x":{"field":"x","type":"quantitative","title":"X (cm)","scale":{"domain":[-680,666],"nice":false,"zero":false},"axis":{"values":[-500,0,500]}},
"y":{"field":"y","type":"quantitative","title":"Y (cm)","scale":{"domain":[-678,678],"nice":false,"zero":false},"axis":{"values":[-500,0,500]}}},
"layer":[
{"data":{"name":"fill2d"},"mark":{"type":"rect","color":"lightgreen"},"encoding":{"x2":{"field":"x2"},"y2":{"field":"y2"}}},
{"data":{"name":"points2d"},"transform":[{"calculate":"'point'","as":"kind"}],"mark":{"type":"circle","size":82,"opacity":1,"clip":true},"encoding":{
"color":{"field":"kind","type":"nominal","scale":{"domain":["point","wall"],"range":["lightgreen","blue"]},"legend":{"orient":"none","legendX":145,"legendY":6,"symbolSize":82,"symbolOpacity":1,"symbolOffset":5,"labelOffset":19,"rowPadding":6}}}}
]},
{"width":404,"height":132,
"data":{"name":"hist"},
"view":{"stroke":"black","strokeWidth":0.8},
"title":{"text":"Height Histogram","offset":3.5},
"mark":{"type":"rect"},
"encoding":{
"x":{"field":"bin_start","type":"quantitative","title":null,"scale":{"domain":[0,778.5],"nice":false,"zero":false},"axis":{"values":[0,100,200,300,400,500,600,700]}},
"x2":{"field":"bin_end"},
"y":{"field":"count","type":"quantitative","title":null,"scale":{"domain":[0,7020],"nice":false},"axis":{"values":[0,2000,4000,6000],"format":"d"}},
"y2":{"datum":0},
"color":{"field":"series","type":"nominal","scale":{"range":["blue"]},"legend":{"orient":"none","legendX":7,"legendY":7,"symbolType":"M-2.57,-0.92H2.57V0.92H-2.57Z","symbolSize":100,"symbolOffset":6,"labelOffset":17}}}}
],"spacing":258,"bounds":"flush","resolve":{"scale":{"color":"independent"},"legend":{"color":"independent"}}}
]
}
